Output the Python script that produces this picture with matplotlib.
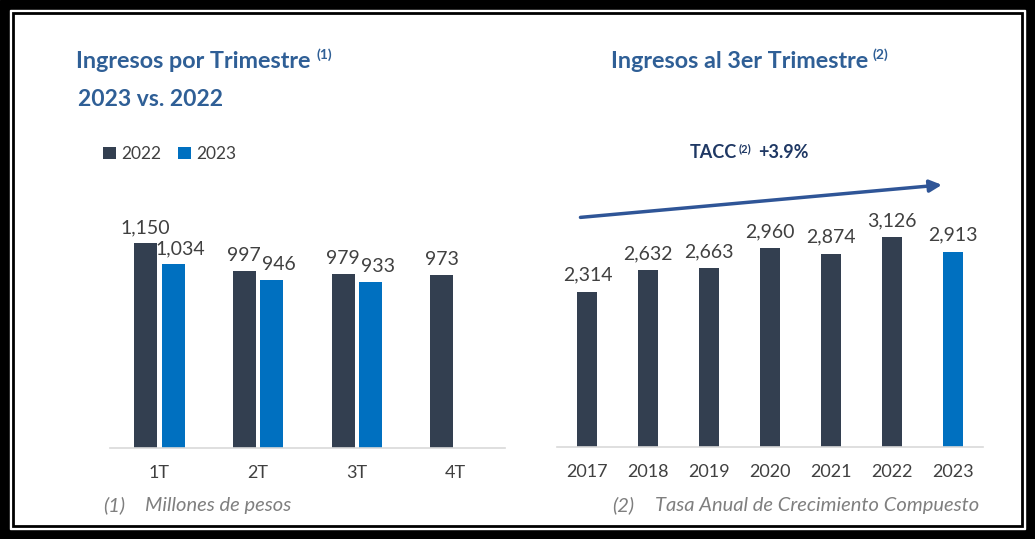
import matplotlib
matplotlib.use("Agg")
import matplotlib.pyplot as plt
from matplotlib.patches import Rectangle
import numpy as np

plt.rcParams['font.family'] = ['Lato', 'DejaVu Sans']

# datos
trimestres = ['1T', '2T', '3T', '4T']
ingresos_2022 = [1150, 997, 979, 973]
ingresos_2023 = [1034, 946, 933]
anios = ['2017', '2018', '2019', '2020', '2021', '2022', '2023']
ingresos_3t = [2314, 2632, 2663, 2960, 2874, 3126, 2913]

oscuro = '#333F50'
azul = '#0070C0'
titulo_c = '#2F5F96'
gris = '#404040'

W, H = 1035, 539
fig = plt.figure(figsize=(W / 100, H / 100), dpi=100)

# marco
fig.patches.append(Rectangle((0, 0), 1, 1, transform=fig.transFigure, color='black', zorder=-10))
fig.patches.append(Rectangle((10 / W, 10 / H), 1 - 20 / W, 1 - 20 / H, transform=fig.transFigure,
                             color='white', zorder=-9))
fig.patches.append(Rectangle((13 / W, 13 / H), 1 - 26 / W, 1 - 26 / H, transform=fig.transFigure,
                             facecolor='white', edgecolor='black', lw=2, zorder=-8))


def fmt(v):
    return f'{v:,}'


def estilo(ax):
    for s in ['top', 'right', 'left']:
        ax.spines[s].set_visible(False)
    ax.spines['bottom'].set_color('#D9D9D9')
    ax.spines['bottom'].set_linewidth(1.2)
    ax.set_yticks([])
    ax.tick_params(axis='x', length=0, pad=12, labelsize=13, labelcolor=gris)
    ax.set_facecolor('none')


# ---- izquierda: por trimestre
ax1 = fig.add_axes([110 / W, 91 / H, 395 / W, 249 / H])
x = np.arange(len(trimestres))
b1 = ax1.bar(x - 0.14, ingresos_2022, width=0.232, color=oscuro, label='2022')
b2 = ax1.bar(x[:len(ingresos_2023)] + 0.14, ingresos_2023, width=0.232, color=azul, label='2023')
for r, v in zip(b1, ingresos_2022):
    ax1.annotate(fmt(v), (r.get_x() + r.get_width() / 2, v), xytext=(0, 5), textcoords='offset points',
                 ha='center', va='bottom', fontsize=14, color=gris)
for r, v in zip(b2, ingresos_2023):
    ax1.annotate(fmt(v), (r.get_x() + r.get_width() / 2, v), xytext=(5, 5), textcoords='offset points',
                 ha='center', va='bottom', fontsize=14, color=gris)
ax1.set_xlim(-0.5, 3.5)
ax1.set_ylim(0, 1400)
ax1.set_xticks(x)
ax1.set_xticklabels(trimestres)
estilo(ax1)
ax1.legend(loc='center left', bbox_to_anchor=(94 / W, 1 - 154 / H), bbox_transform=fig.transFigure,
           ncol=2, frameon=False, handlelength=0.75, handleheight=0.75, handletextpad=0.3,
           columnspacing=1.0, borderpad=0, prop={'size': 12.5}, labelcolor=gris)

# ---- derecha: acumulado 3T
ax2 = fig.add_axes([557 / W, 92 / H, 426 / W, 255 / H])
x2 = np.arange(len(anios))
colores = [oscuro] * (len(anios) - 1) + [azul]
b3 = ax2.bar(x2, ingresos_3t, width=0.33, color=colores)
for r, v in zip(b3, ingresos_3t):
    ax2.annotate(fmt(v), (r.get_x() + r.get_width() / 2, v), xytext=(0, 6), textcoords='offset points',
                 ha='center', va='bottom', fontsize=14, color=gris)
ax2.set_xlim(-0.5, 6.5)
ax2.set_ylim(0, 3800)
ax2.set_xticks(x2)
ax2.set_xticklabels(anios)
estilo(ax2)
ax2.annotate('', xy=(5.87, 3910), xytext=(-0.16, 3418), annotation_clip=False,
             arrowprops=dict(arrowstyle='-|>', lw=2.5, color='#2F5597', mutation_scale=18))

# ---- textos
t1 = fig.text(76 / W, 1 - 62 / H, 'Ingresos por Trimestre', fontsize=16.8, fontweight='bold',
              color=titulo_c, va='center')
fig.text(78 / W, 1 - 99 / H, '2023 vs. 2022', fontsize=16.5, fontweight='bold', color=titulo_c, va='center')
ax1.annotate('(1)', xy=(1, 1), xycoords=t1, xytext=(4, 2), textcoords='offset points', va='top',
             fontsize=10, fontweight='bold', color=titulo_c, annotation_clip=False)

t2 = fig.text(611 / W, 1 - 62 / H, 'Ingresos al 3er Trimestre', fontsize=16.8, fontweight='bold',
              color=titulo_c, va='center')
ax2.annotate('(2)', xy=(1, 1), xycoords=t2, xytext=(3, 2), textcoords='offset points', va='top',
             fontsize=10, fontweight='bold', color=titulo_c, annotation_clip=False)

t3 = fig.text(690 / W, 1 - 153 / H, 'TACC', fontsize=13, fontweight='bold', color='#1F3864', va='center')
t4 = ax2.annotate('(2)', xy=(1, 1), xycoords=t3, xytext=(1, 1), textcoords='offset points', va='top',
                  fontsize=8, fontweight='bold', color='#1F3864', annotation_clip=False)
ax2.annotate('+3.9%', xy=(1, 0), xycoords=(t4, t3), xytext=(5, 0), textcoords='offset points',
             va='bottom', fontsize=13, fontweight='bold', color='#1F3864', annotation_clip=False)

nota = dict(fontsize=14.5, style='italic', color='#7F7F7F', va='center')
fig.text(103 / W, 1 - 505 / H, '(1)', **nota)
fig.text(145 / W, 1 - 505 / H, 'Millones de pesos', **nota)
fig.text(612 / W, 1 - 505 / H, '(2)', **nota)
fig.text(655 / W, 1 - 505 / H, 'Tasa Anual de Crecimiento Compuesto', **nota)

fig.savefig('out.png', dpi=100)
